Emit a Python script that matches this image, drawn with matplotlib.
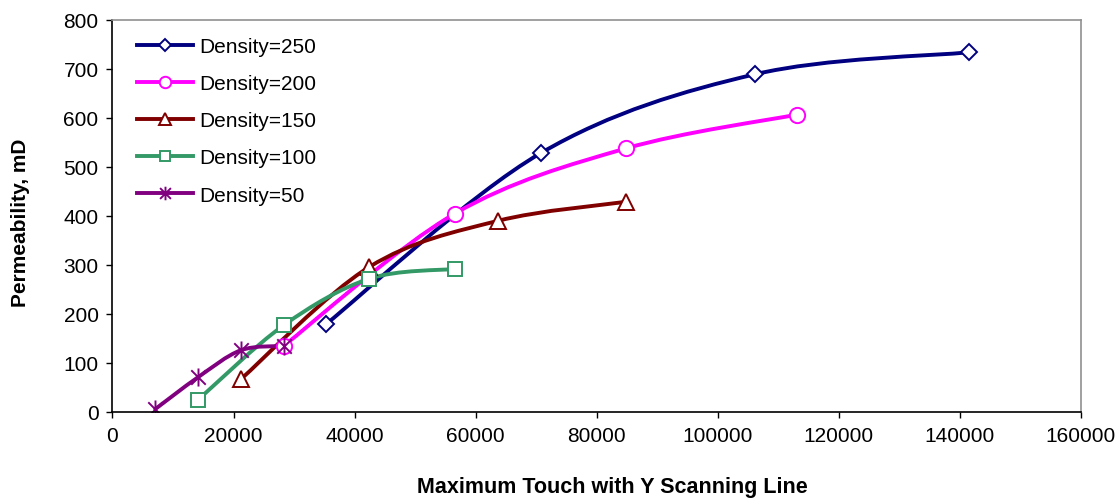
import numpy as np
import matplotlib
matplotlib.use("Agg")
import matplotlib.pyplot as plt
from matplotlib.path import Path
from matplotlib.patches import PathPatch
from matplotlib.lines import Line2D

plt.rcParams['font.family'] = ['Liberation Sans', 'DejaVu Sans']

# values
x_250 = [35355, 70711, 106066, 141421]
y_250 = [180, 528, 689, 734]
x_200 = [28284, 56569, 84853, 113137]
y_200 = [135, 405, 538, 607]
x_150 = [21213, 42426, 63640, 84853]
y_150 = [67, 296, 390, 429]
x_100 = [14142, 28284, 42426, 56569]
y_100 = [25, 177, 272, 292]
x_50 = [7071, 14142, 21213, 28284]
y_50 = [6, 71, 126, 135]

labels = ['Density=250', 'Density=200', 'Density=150', 'Density=100', 'Density=50']
x_ticks = [0, 20000, 40000, 60000, 80000, 100000, 120000, 140000, 160000]
y_ticks = [0, 100, 200, 300, 400, 500, 600, 700, 800]

# excel style star: an X plus a vertical bar
star = Path([(-1, -1), (1, 1), (-1, 1), (1, -1), (0, -1.25), (0, 1.25)],
            [Path.MOVETO, Path.LINETO, Path.MOVETO, Path.LINETO, Path.MOVETO, Path.LINETO])

series = [(x_250, y_250), (x_200, y_200), (x_150, y_150), (x_100, y_100), (x_50, y_50)]
colors = ['#000080', '#FF00FF', '#800000', '#339966', '#800080']
markers = ['D', 'o', '^', 's', star]
msizes = [8, 11, 11, 10.5, 13]


def smooth_path(xs, ys):
    # excel-like smoothed line: bezier segments through the points
    pts = np.column_stack([xs, ys]).astype(float)
    n = len(pts)
    verts = [pts[0]]
    codes = [Path.MOVETO]
    for i in range(n - 1):
        p0 = pts[max(i - 1, 0)]
        p1 = pts[i]
        p2 = pts[i + 1]
        p3 = pts[min(i + 2, n - 1)]
        verts += [p1 + (p2 - p0) / 6, p2 - (p3 - p1) / 6, p2]
        codes += [Path.CURVE4] * 3
    return Path(verts, codes)


fig = plt.figure(figsize=(11.18, 5.02), dpi=100)
ax = fig.add_axes([0.1006, 0.1773, 0.8663, 0.7809])

handles = []
for (xs, ys), c, m, ms, lab in zip(series, colors, markers, msizes, labels):
    patch = PathPatch(smooth_path(xs, ys), facecolor='none', edgecolor=c,
                      lw=2.8, capstyle='round', joinstyle='round')
    ax.add_patch(patch)
    mfc = c if m is star else 'white'
    ax.plot(xs, ys, linestyle='none', marker=m, markersize=ms,
            markerfacecolor=mfc, markeredgecolor=c, markeredgewidth=1.4)
    handles.append(Line2D([], [], color=c, lw=2.8, marker=m, markersize=ms,
                          markerfacecolor=mfc, markeredgecolor=c, markeredgewidth=1.4))

ax.set_xlim(0, 160000)
ax.set_ylim(0, 800)
ax.set_xticks(x_ticks)
ax.set_xticklabels([str(t) for t in x_ticks])
ax.set_yticks(y_ticks)
ax.set_yticklabels([str(t) for t in y_ticks])
ax.tick_params(direction='out', length=4, width=1, labelsize=15, pad=6)

for s in ['left', 'bottom']:
    ax.spines[s].set_color('black')
    ax.spines[s].set_linewidth(1.2)
for s in ['top', 'right']:
    ax.spines[s].set_color('#909090')
    ax.spines[s].set_linewidth(1.2)

fig.text(0.548, 0.028, 'Maximum Touch with Y Scanning Line', ha='center', va='center',
         fontsize=15.5, fontweight='bold')
fig.text(0.018, 0.556, 'Permeability, mD', ha='center', va='center', rotation=90,
         fontsize=15, fontweight='bold')

ax.legend(handles, labels, loc='upper left', bbox_to_anchor=(137 / 1118, 1 - 38 / 502),
          bbox_transform=fig.transFigure, frameon=False, fontsize=15, markerscale=0.75,
          handlelength=2.7, handletextpad=0.3, labelspacing=0.87, borderpad=0, borderaxespad=0)

fig.savefig('out.png', dpi=100)
